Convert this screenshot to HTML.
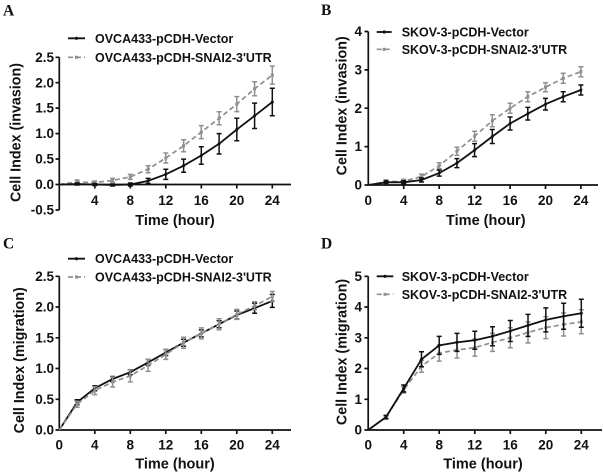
<!DOCTYPE html>
<html><head><meta charset="utf-8"><style>
html,body{margin:0;padding:0;background:#fff;}
svg{display:block;}
text{font-family:"Liberation Sans",Arial,sans-serif;font-weight:bold;fill:#111;}
.t{font-size:13.5px;}
.ttl{font-size:14.5px;}
.yl{font-size:14.3px;}
.lg{font-size:12.5px;}
.pl{font-family:"Liberation Serif","Times New Roman",serif;font-size:15.5px;}
.ax{stroke:#111;stroke-width:1.7;fill:none;}
.bk{stroke:#111;stroke-width:1.8;fill:none;}
.gr{stroke:#8f8f8f;stroke-width:1.7;fill:none;stroke-dasharray:5,3;}
.eb{stroke:#111;stroke-width:1.5;fill:none;}
.eg{stroke:#8f8f8f;stroke-width:1.5;fill:none;}
</style></head><body>
<svg width="604" height="475" viewBox="0 0 604 475" xmlns="http://www.w3.org/2000/svg">
<rect width="604" height="475" fill="#fff"/>

<!-- Panel letters -->
<text class="pl" x="3" y="15.7">A</text>
<text class="pl" x="321" y="15.2">B</text>
<text class="pl" x="3" y="248.5">C</text>
<text class="pl" x="321" y="248.5">D</text>

<!-- ================= PANEL A ================= -->
<path class="ax" d="M59.3 57.3V210M59.3 184.5H291"/>
<path class="ax" d="M55.5 57.3H59.3M55.5 82.7H59.3M55.5 108.1H59.3M55.5 133.6H59.3M55.5 159H59.3M55.5 184.5H59.3M55.5 210H59.3
M94.8 184.5V188.5M130.3 184.5V188.5M165.8 184.5V188.5M201.3 184.5V188.5M236.8 184.5V188.5M272.3 184.5V188.5"/>
<g class="t" text-anchor="end">
<text x="54" y="61.9">2.5</text><text x="54" y="87.3">2.0</text><text x="54" y="112.7">1.5</text>
<text x="54" y="138.2">1.0</text><text x="54" y="163.6">0.5</text><text x="54" y="189.1">0.0</text><text x="54" y="214.6">-0.5</text>
</g>
<g class="t" text-anchor="middle">
<text x="94.8" y="205">4</text><text x="130.3" y="205">8</text><text x="165.8" y="205">12</text>
<text x="201.3" y="205">16</text><text x="236.8" y="205">20</text><text x="272.3" y="205">24</text>
</g>
<text class="ttl" x="175" y="225.2" text-anchor="middle">Time (hour)</text>
<text class="yl" transform="translate(20.7,132.5) rotate(-90)" text-anchor="middle">Cell Index (invasion)</text>
<!-- legend A -->
<path class="bk" d="M68 38.3H85"/><circle cx="76.5" cy="38.3" r="1.6" fill="#111"/>
<text class="lg" x="95" y="42.8">OVCA433-pCDH-Vector</text>
<path class="gr" d="M68 57.3H85" stroke-dasharray="4,3"/><rect x="75" y="55.8" width="3" height="3" fill="#8f8f8f"/>
<text class="lg" x="95" y="61.8">OVCA433-pCDH-SNAI2-3'UTR</text>
<!-- series A gray -->
<polyline class="gr" points="59.3,184.5 77.1,182 94.8,182.5 112.6,180.4 130.3,176.9 148.1,169.2 165.8,158 183.6,145.8 201.3,132.1 219.1,118.3 236.8,104.1 254.6,88.8 272.3,75.1"/>
<path class="eg" d="M77.1 180V184M74.6 180h5M74.6 184h5M94.8 181V184M92.3 181h5M92.3 184h5M112.6 178.4V182.4M110.1 178.4h5M110.1 182.4h5M130.3 174.4V179.4M127.8 174.4h5M127.8 179.4h5M148.1 165.7V172.7M145.6 165.7h5M145.6 172.7h5M165.8 153V163M163.3 153h5M163.3 163h5M183.6 139.8V151.8M181.1 139.8h5M181.1 151.8h5M201.3 125.6V138.6M198.8 125.6h5M198.8 138.6h5M219.1 111.8V124.8M216.6 111.8h5M216.6 124.8h5M236.8 96.6V111.6M234.3 96.6h5M234.3 111.6h5M254.6 81.8V95.8M252.1 81.8h5M252.1 95.8h5M272.3 66.1V84.1M269.8 66.1h5M269.8 84.1h5"/>
<g fill="#8f8f8f"><rect x="75.6" y="180.5" width="3" height="3"/><rect x="93.3" y="181" width="3" height="3"/><rect x="111.1" y="178.9" width="3" height="3"/><rect x="128.8" y="175.4" width="3" height="3"/><rect x="146.6" y="167.7" width="3" height="3"/><rect x="164.3" y="156.5" width="3" height="3"/><rect x="182.1" y="144.3" width="3" height="3"/><rect x="199.8" y="130.6" width="3" height="3"/><rect x="217.6" y="116.8" width="3" height="3"/><rect x="235.3" y="102.6" width="3" height="3"/><rect x="253.1" y="87.3" width="3" height="3"/><rect x="270.8" y="73.6" width="3" height="3"/></g>
<!-- series A black -->
<polyline class="bk" points="59.3,184.5 77.1,184 94.8,184.5 112.6,185 130.3,184.5 148.1,180.9 165.8,174.3 183.6,165.7 201.3,155.5 219.1,143.8 236.8,129.5 254.6,115.8 272.3,102"/>
<path class="eb" d="M77.1 183V185M74.6 183h5M74.6 185h5M94.8 183.5V185.5M92.3 183.5h5M92.3 185.5h5M112.6 184V186M110.1 184h5M110.1 186h5M130.3 183V186M127.8 183h5M127.8 186h5M148.1 178.4V183.4M145.6 178.4h5M145.6 183.4h5M165.8 169.2V179.4M163.3 169.2h5M163.3 179.4h5M183.6 159.1V172.3M181.1 159.1h5M181.1 172.3h5M201.3 146.8V164.2M198.8 146.8h5M198.8 164.2h5M219.1 133.6V154M216.6 133.6h5M216.6 154h5M236.8 118.3V140.7M234.3 118.3h5M234.3 140.7h5M254.6 103.1V128.5M252.1 103.1h5M252.1 128.5h5M272.3 88.3V115.7M269.8 88.3h5M269.8 115.7h5"/>
<g fill="#111"><circle cx="77.1" cy="184" r="1.5"/><circle cx="94.8" cy="184.5" r="1.5"/><circle cx="112.6" cy="185" r="1.5"/><circle cx="130.3" cy="184.5" r="1.5"/><circle cx="148.1" cy="180.9" r="1.5"/><circle cx="165.8" cy="174.3" r="1.5"/><circle cx="183.6" cy="165.7" r="1.5"/><circle cx="201.3" cy="155.5" r="1.5"/><circle cx="219.1" cy="143.8" r="1.5"/><circle cx="236.8" cy="129.5" r="1.5"/><circle cx="254.6" cy="115.8" r="1.5"/><circle cx="272.3" cy="102" r="1.5"/></g>

<!-- ================= PANEL B ================= -->
<path class="ax" d="M368.3 31.5V185H598"/>
<path class="ax" d="M364.5 31.5H368.3M364.5 69.9H368.3M364.5 108.2H368.3M364.5 146.6H368.3M364.5 185H368.3
M403.7 185V189M439.2 185V189M474.6 185V189M510.1 185V189M545.5 185V189M580.9 185V189"/>
<g class="t" text-anchor="end">
<text x="362" y="36.1">4</text><text x="362" y="74.5">3</text><text x="362" y="112.8">2</text><text x="362" y="151.2">1</text><text x="362" y="189.6">0</text>
</g>
<g class="t" text-anchor="middle">
<text x="368.3" y="205">0</text><text x="403.7" y="205">4</text><text x="439.2" y="205">8</text><text x="474.6" y="205">12</text>
<text x="510.1" y="205">16</text><text x="545.5" y="205">20</text><text x="580.9" y="205">24</text>
</g>
<text class="ttl" x="485.8" y="225.2" text-anchor="middle">Time (hour)</text>
<text class="yl" transform="translate(346.5,105.8) rotate(-90)" text-anchor="middle">Cell Index (invasion)</text>
<path class="bk" d="M376.7 32H391.7"/><circle cx="384.2" cy="32" r="1.6" fill="#111"/>
<text class="lg" x="401.7" y="36.5">SKOV-3-pCDH-Vector</text>
<path class="gr" d="M376.7 49.3H391.7" stroke-dasharray="4,3"/><rect x="382.7" y="47.8" width="3" height="3" fill="#8f8f8f"/>
<text class="lg" x="401.7" y="53.8">SKOV-3-pCDH-SNAI2-3'UTR</text>
<polyline class="gr" points="368.3,185 386,181.9 403.7,181.2 421.5,176.6 439.2,165.8 456.9,151.2 474.6,136.2 492.3,120.8 510.1,108.3 527.8,96.7 545.5,87.2 563.2,78.3 580.9,71.7"/>
<path class="eg" d="M386 179.9V183.9M383.5 179.9h5M383.5 183.9h5M403.7 179.2V183.2M401.2 179.2h5M401.2 183.2h5M421.5 174.1V179.1M419 174.1h5M419 179.1h5M439.2 162.8V168.8M436.7 162.8h5M436.7 168.8h5M456.9 147.2V155.2M454.4 147.2h5M454.4 155.2h5M474.6 131.2V141.2M472.1 131.2h5M472.1 141.2h5M492.3 114.8V126.8M489.8 114.8h5M489.8 126.8h5M510.1 103.3V113.3M507.6 103.3h5M507.6 113.3h5M527.8 91.7V101.7M525.3 91.7h5M525.3 101.7h5M545.5 82.7V91.7M543 82.7h5M543 91.7h5M563.2 73.3V83.3M560.7 73.3h5M560.7 83.3h5M580.9 66.7V76.7M578.4 66.7h5M578.4 76.7h5"/>
<g fill="#8f8f8f"><rect x="384.5" y="180.4" width="3" height="3"/><rect x="402.2" y="179.7" width="3" height="3"/><rect x="420" y="175.1" width="3" height="3"/><rect x="437.7" y="164.3" width="3" height="3"/><rect x="455.4" y="149.7" width="3" height="3"/><rect x="473.1" y="134.7" width="3" height="3"/><rect x="490.8" y="119.3" width="3" height="3"/><rect x="508.6" y="106.8" width="3" height="3"/><rect x="526.3" y="95.2" width="3" height="3"/><rect x="544" y="85.7" width="3" height="3"/><rect x="561.7" y="76.8" width="3" height="3"/><rect x="579.4" y="70.2" width="3" height="3"/></g>
<polyline class="bk" points="368.3,185 386,182.3 403.7,182.3 421.5,180 439.2,173.1 456.9,163.1 474.6,150.1 492.3,136.5 510.1,123.5 527.8,113.7 545.5,104.2 563.2,96.7 580.9,90"/>
<path class="eb" d="M386 180.8V183.8M383.5 180.8h5M383.5 183.8h5M403.7 180.8V183.8M401.2 180.8h5M401.2 183.8h5M421.5 178V182M419 178h5M419 182h5M439.2 170.1V176.1M436.7 170.1h5M436.7 176.1h5M456.9 158.6V167.6M454.4 158.6h5M454.4 167.6h5M474.6 143.6V156.6M472.1 143.6h5M472.1 156.6h5M492.3 129.5V143.5M489.8 129.5h5M489.8 143.5h5M510.1 117V130M507.6 117h5M507.6 130h5M527.8 107.4V120M525.3 107.4h5M525.3 120h5M545.5 98.4V110M543 98.4h5M543 110h5M563.2 91.7V101.7M560.7 91.7h5M560.7 101.7h5M580.9 85V95M578.4 85h5M578.4 95h5"/>
<g fill="#111"><circle cx="386" cy="182.3" r="1.5"/><circle cx="403.7" cy="182.3" r="1.5"/><circle cx="421.5" cy="180" r="1.5"/><circle cx="439.2" cy="173.1" r="1.5"/><circle cx="456.9" cy="163.1" r="1.5"/><circle cx="474.6" cy="150.1" r="1.5"/><circle cx="492.3" cy="136.5" r="1.5"/><circle cx="510.1" cy="123.5" r="1.5"/><circle cx="527.8" cy="113.7" r="1.5"/><circle cx="545.5" cy="104.2" r="1.5"/><circle cx="563.2" cy="96.7" r="1.5"/><circle cx="580.9" cy="90" r="1.5"/></g>

<!-- ================= PANEL C ================= -->
<path class="ax" d="M59.3 276.3V430H291"/>
<path class="ax" d="M55.5 276.3H59.3M55.5 307H59.3M55.5 337.8H59.3M55.5 368.5H59.3M55.5 399.3H59.3M55.5 430H59.3
M94.8 430V434M130.3 430V434M165.8 430V434M201.3 430V434M236.8 430V434M272.3 430V434"/>
<g class="t" text-anchor="end">
<text x="54" y="280.9">2.5</text><text x="54" y="311.6">2.0</text><text x="54" y="342.4">1.5</text>
<text x="54" y="373.1">1.0</text><text x="54" y="403.9">0.5</text><text x="54" y="434.6">0.0</text>
</g>
<g class="t" text-anchor="middle">
<text x="59.3" y="449.6">0</text><text x="94.8" y="449.6">4</text><text x="130.3" y="449.6">8</text><text x="165.8" y="449.6">12</text>
<text x="201.3" y="449.6">16</text><text x="236.8" y="449.6">20</text><text x="272.3" y="449.6">24</text>
</g>
<text class="ttl" x="175" y="468.5" text-anchor="middle">Time (hour)</text>
<text class="yl" transform="translate(24,360.3) rotate(-90)" text-anchor="middle">Cell Index (migration)</text>
<path class="bk" d="M68 258.7H85"/><circle cx="76.5" cy="258.7" r="1.6" fill="#111"/>
<text class="lg" x="95" y="263.2">OVCA433-pCDH-Vector</text>
<path class="gr" d="M68 277H85" stroke-dasharray="4,3"/><rect x="75" y="275.5" width="3" height="3" fill="#8f8f8f"/>
<text class="lg" x="95" y="281.5">OVCA433-pCDH-SNAI2-3'UTR</text>
<polyline class="bk" points="59.3,430 77.1,402.3 94.8,388.2 112.6,379 130.3,372.2 148.1,362.4 165.8,352.5 183.6,342.7 201.3,333.4 219.1,324.2 236.8,315 254.6,308.2 272.3,300.9"/>
<path class="eb" d="M77.1 399.8V404.8M74.6 399.8h5M74.6 404.8h5M94.8 385.7V390.7M92.3 385.7h5M92.3 390.7h5M112.6 376.5V381.5M110.1 376.5h5M110.1 381.5h5M130.3 369.7V374.7M127.8 369.7h5M127.8 374.7h5M148.1 359.4V365.4M145.6 359.4h5M145.6 365.4h5M165.8 349.5V355.5M163.3 349.5h5M163.3 355.5h5M183.6 339.2V346.2M181.1 339.2h5M181.1 346.2h5M201.3 329.9V336.9M198.8 329.9h5M198.8 336.9h5M219.1 320.7V327.7M216.6 320.7h5M216.6 327.7h5M236.8 311V319M234.3 311h5M234.3 319h5M254.6 303.2V313.2M252.1 303.2h5M252.1 313.2h5M272.3 294.4V307.4M269.8 294.4h5M269.8 307.4h5"/>
<g fill="#111"><circle cx="77.1" cy="402.3" r="1.5"/><circle cx="94.8" cy="388.2" r="1.5"/><circle cx="112.6" cy="379" r="1.5"/><circle cx="130.3" cy="372.2" r="1.5"/><circle cx="148.1" cy="362.4" r="1.5"/><circle cx="165.8" cy="352.5" r="1.5"/><circle cx="183.6" cy="342.7" r="1.5"/><circle cx="201.3" cy="333.4" r="1.5"/><circle cx="219.1" cy="324.2" r="1.5"/><circle cx="236.8" cy="315" r="1.5"/><circle cx="254.6" cy="308.2" r="1.5"/><circle cx="272.3" cy="300.9" r="1.5"/></g>
<polyline class="gr" points="59.3,430 77.1,404.2 94.8,390.6 112.6,382 130.3,375.9 148.1,365.4 165.8,354.4 183.6,342.7 201.3,333.4 219.1,324.2 236.8,314.4 254.6,305.8 272.3,296.5"/>
<path class="eg" d="M77.1 401.2V407.2M74.6 401.2h5M74.6 407.2h5M94.8 386.6V394.6M92.3 386.6h5M92.3 394.6h5M112.6 377V387M110.1 377h5M110.1 387h5M130.3 369.9V381.9M127.8 369.9h5M127.8 381.9h5M148.1 359.4V371.4M145.6 359.4h5M145.6 371.4h5M165.8 349.4V359.4M163.3 349.4h5M163.3 359.4h5M183.6 337.2V348.2M181.1 337.2h5M181.1 348.2h5M201.3 327.9V338.9M198.8 327.9h5M198.8 338.9h5M219.1 318.7V329.7M216.6 318.7h5M216.6 329.7h5M236.8 309.4V319.4M234.3 309.4h5M234.3 319.4h5M254.6 301.8V309.8M252.1 301.8h5M252.1 309.8h5M272.3 291.5V301.5M269.8 291.5h5M269.8 301.5h5"/>
<g fill="#8f8f8f"><rect x="75.6" y="402.7" width="3" height="3"/><rect x="93.3" y="389.1" width="3" height="3"/><rect x="111.1" y="380.5" width="3" height="3"/><rect x="128.8" y="374.4" width="3" height="3"/><rect x="146.6" y="363.9" width="3" height="3"/><rect x="164.3" y="352.9" width="3" height="3"/><rect x="182.1" y="341.2" width="3" height="3"/><rect x="199.8" y="331.9" width="3" height="3"/><rect x="217.6" y="322.7" width="3" height="3"/><rect x="235.3" y="312.9" width="3" height="3"/><rect x="253.1" y="304.3" width="3" height="3"/><rect x="270.8" y="295" width="3" height="3"/></g>

<!-- ================= PANEL D ================= -->
<path class="ax" d="M368.2 276.3V430H602"/>
<path class="ax" d="M364.4 276.3H368.2M364.4 307H368.2M364.4 337.8H368.2M364.4 368.5H368.2M364.4 399.3H368.2M364.4 430H368.2
M403.7 430V434M439.2 430V434M474.8 430V434M510.3 430V434M545.8 430V434M581.3 430V434"/>
<g class="t" text-anchor="end">
<text x="362" y="280.9">5</text><text x="362" y="311.6">4</text><text x="362" y="342.4">3</text>
<text x="362" y="373.1">2</text><text x="362" y="403.9">1</text><text x="362" y="434.6">0</text>
</g>
<g class="t" text-anchor="middle">
<text x="368.2" y="449.6">0</text><text x="403.7" y="449.6">4</text><text x="439.2" y="449.6">8</text><text x="474.8" y="449.6">12</text>
<text x="510.3" y="449.6">16</text><text x="545.8" y="449.6">20</text><text x="581.3" y="449.6">24</text>
</g>
<text class="ttl" x="483" y="468.5" text-anchor="middle">Time (hour)</text>
<text class="yl" transform="translate(346.5,352) rotate(-90)" text-anchor="middle">Cell Index (migration)</text>
<path class="bk" d="M376.7 276.3H393.3"/><circle cx="385" cy="276.3" r="1.6" fill="#111"/>
<text class="lg" x="401.7" y="280.8">SKOV-3-pCDH-Vector</text>
<path class="gr" d="M376.7 294.3H393.3" stroke-dasharray="4,3"/><rect x="383.5" y="292.8" width="3" height="3" fill="#8f8f8f"/>
<text class="lg" x="401.7" y="298.8">SKOV-3-pCDH-SNAI2-3'UTR</text>
<polyline class="gr" points="368.2,430 386,417.1 403.7,390 421.5,366.3 439.2,353.1 457,350 474.8,347.6 492.5,342.4 510.3,337.8 528,332.5 545.8,327.6 563.6,324.5 581.3,321.8"/>
<path class="eg" d="M386 415.1V419.1M383.5 415.1h5M383.5 419.1h5M403.7 387V393M401.2 387h5M401.2 393h5M421.5 360.3V372.3M419 360.3h5M419 372.3h5M439.2 345.1V361.1M436.7 345.1h5M436.7 361.1h5M457 342V358M454.5 342h5M454.5 358h5M474.8 339.1V356.1M472.3 339.1h5M472.3 356.1h5M492.5 333.4V351.4M490 333.4h5M490 351.4h5M510.3 327.8V347.8M507.8 327.8h5M507.8 347.8h5M528 322V343M525.5 322h5M525.5 343h5M545.8 316.6V338.6M543.3 316.6h5M543.3 338.6h5M563.6 313V336M561.1 313h5M561.1 336h5M581.3 309.8V333.8M578.8 309.8h5M578.8 333.8h5"/>
<g fill="#8f8f8f"><rect x="384.5" y="415.6" width="3" height="3"/><rect x="402.2" y="388.5" width="3" height="3"/><rect x="420" y="364.8" width="3" height="3"/><rect x="437.7" y="351.6" width="3" height="3"/><rect x="455.5" y="348.5" width="3" height="3"/><rect x="473.3" y="346.1" width="3" height="3"/><rect x="491" y="340.9" width="3" height="3"/><rect x="508.8" y="336.3" width="3" height="3"/><rect x="526.5" y="331" width="3" height="3"/><rect x="544.3" y="326.1" width="3" height="3"/><rect x="562.1" y="323" width="3" height="3"/><rect x="579.8" y="320.3" width="3" height="3"/></g>
<polyline class="bk" points="368.2,430 386,417.1 403.7,388.5 421.5,359.3 439.2,345.4 457,342.4 474.8,340.2 492.5,336.2 510.3,331 528,325.4 545.8,319.9 563.6,316.2 581.3,313.2"/>
<path class="eb" d="M386 415.6V418.6M383.5 415.6h5M383.5 418.6h5M403.7 385V392M401.2 385h5M401.2 392h5M421.5 351.8V366.8M419 351.8h5M419 366.8h5M439.2 336.4V354.4M436.7 336.4h5M436.7 354.4h5M457 333.4V351.4M454.5 333.4h5M454.5 351.4h5M474.8 331.2V349.2M472.3 331.2h5M472.3 349.2h5M492.5 326.7V345.7M490 326.7h5M490 345.7h5M510.3 320.5V341.5M507.8 320.5h5M507.8 341.5h5M528 314.4V336.4M525.5 314.4h5M525.5 336.4h5M545.8 307.9V331.9M543.3 307.9h5M543.3 331.9h5M563.6 303.2V329.2M561.1 303.2h5M561.1 329.2h5M581.3 299.2V327.2M578.8 299.2h5M578.8 327.2h5"/>
<g fill="#111"><circle cx="386" cy="417.1" r="1.5"/><circle cx="403.7" cy="388.5" r="1.5"/><circle cx="421.5" cy="359.3" r="1.5"/><circle cx="439.2" cy="345.4" r="1.5"/><circle cx="457" cy="342.4" r="1.5"/><circle cx="474.8" cy="340.2" r="1.5"/><circle cx="492.5" cy="336.2" r="1.5"/><circle cx="510.3" cy="331" r="1.5"/><circle cx="528" cy="325.4" r="1.5"/><circle cx="545.8" cy="319.9" r="1.5"/><circle cx="563.6" cy="316.2" r="1.5"/><circle cx="581.3" cy="313.2" r="1.5"/></g>
</svg>
</body></html>
